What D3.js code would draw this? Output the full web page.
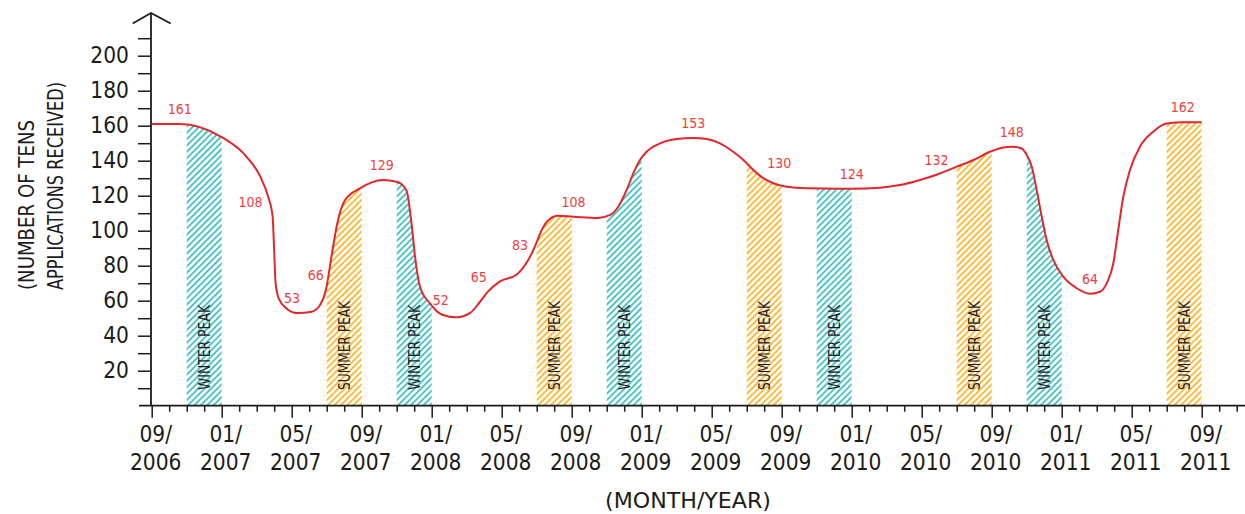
<!DOCTYPE html>
<html>
<head>
<meta charset="utf-8">
<script src="https://cdn.jsdelivr.net/npm/d3@7"></script>
<style>
  html, body { margin: 0; padding: 0; background: #ffffff; }
  svg { display: block; }
  text { font-family: "Liberation Sans Narrow", "DejaVu Sans Condensed", "Arial Narrow", sans-serif; }
</style>
</head>
<body>
<svg id="chart" width="1245" height="514"></svg>
<script>
// Months are counted from September 2006 (0 = 09/2006, 60 = 09/2011).
const xTickLabels = ["09/2006", "01/2007", "05/2007", "09/2007", "01/2008", "05/2008",
  "09/2008", "01/2009", "05/2009", "09/2009", "01/2010", "05/2010", "09/2010",
  "01/2011", "05/2011", "09/2011"];
const yTickValues = [20, 40, 60, 80, 100, 120, 140, 160, 180, 200];

// Applications received (tens).
const curveMonth = [0, 1.6, 4.0, 5.4, 6.2, 6.65, 6.91, 7.0, 7.08, 7.25, 7.7, 8.3, 9.15, 9.62, 9.95,
  10.3, 10.6, 11.05, 11.9, 13.2, 14.0, 14.55, 14.85, 15.05, 15.33, 15.9, 16.6, 17.4, 18.2, 18.76,
  19.2, 19.9, 20.86, 21.5, 21.9, 22.2, 22.57, 23.2, 24.1, 25.5, 26.2, 26.66, 27.14, 27.52, 27.9,
  28.28, 29.05, 30.0, 30.95, 31.71, 32.47, 33.23, 33.81, 34.38, 34.95, 35.52, 36.29, 37.43, 40.0,
  41.62, 42.76, 43.9, 44.85, 46.0, 46.95, 47.9, 48.66, 49.2, 49.71, 50.0, 50.29, 50.57, 50.86,
  51.14, 51.52, 52.09, 52.86, 53.62, 54.19, 54.57, 54.95, 55.23, 55.52, 55.9, 56.47, 57.23, 58.0,
  59.0, 60.0];
const curveValue = [161, 161, 153.5, 142.5, 131, 119.5, 108, 88, 70, 61.5, 55.6, 53, 53.7, 57.5, 66,
  87, 104, 117.5, 124.2, 129, 128, 123.3, 104, 85, 68, 58.5, 52, 50.5, 53, 59.4,
  65, 71, 75, 83, 91, 98.5, 105, 108.5, 108, 107.3, 109, 113.7, 123.3, 132.8, 140.4,
  145.1, 149.9, 152.4, 153, 152.4, 149.9, 145.1, 140.4, 134.7, 130, 127.1, 125.1, 124.2, 124,
  124.6, 126.1, 129, 132, 136.6, 140.4, 145.1, 147.6, 148, 147, 143.3, 136.6, 123.3, 108,
  94.7, 83.3, 73.7, 67.1, 64, 65.1, 69.9, 81.4, 100.4, 119.4, 134.7, 148, 156.6, 161.2,
  162, 162];
// Points whose value is written on the chart.
const labelledAt = [1, 6, 11, 14, 19, 26, 30, 33, 38, 48, 54, 58, 62, 67, 77, 87];
const labelShift = [0, -22, -5, -10, -1, -1.5, -9, -8, 0, 0, 16, 0, 0, -1, 0, -1.5];

// Seasonal peaks, each two months wide.
const peakStart = [2, 10, 14, 22, 26, 34, 38, 46, 50, 58];
const peakKind = ["WINTER PEAK", "SUMMER PEAK", "WINTER PEAK", "SUMMER PEAK", "WINTER PEAK",
  "SUMMER PEAK", "WINTER PEAK", "SUMMER PEAK", "WINTER PEAK", "SUMMER PEAK"];

const svg = d3.select("#chart");
const ink = "#1b1b1b";
const red = "#e3262b";
const hatchColour = { "WINTER PEAK": "#3fbfc5", "SUMMER PEAK": "#fbb52b" };

const x = d3.scaleLinear().domain([0, 60]).range([151.7, 1201.7]);
const y = d3.scaleLinear().domain([0, 200]).range([405.7, 55.7]);

const points = curveMonth.map((m, i) => ({ m, v: curveValue[i] }));

const defs = svg.append("defs");
Object.entries(hatchColour).forEach(([kind, colour]) => {
  const p = defs.append("pattern")
    .attr("id", kind === "WINTER PEAK" ? "hatch-winter" : "hatch-summer")
    .attr("patternUnits", "userSpaceOnUse")
    .attr("width", 4.5).attr("height", 10)
    .attr("patternTransform", "rotate(45)");
  p.append("line")
    .attr("x1", 1).attr("x2", 1).attr("y1", 0).attr("y2", 10)
    .attr("stroke", colour).attr("stroke-width", 1.8);
});

const area = d3.area()
  .x(d => x(d.m)).y0(y(0)).y1(d => y(d.v))
  .curve(d3.curveMonotoneX);
defs.append("clipPath").attr("id", "under-curve")
  .append("path").attr("d", area(points));

// Hatched peak bands, filled up to the line
const bands = svg.append("g").attr("clip-path", "url(#under-curve)");
peakStart.forEach((s, i) => {
  bands.append("rect")
    .attr("x", x(s)).attr("width", x(s + 2) - x(s))
    .attr("y", y(210)).attr("height", y(0) - y(210))
    .attr("fill", peakKind[i] === "WINTER PEAK" ? "url(#hatch-winter)" : "url(#hatch-summer)");
});

// Band captions
peakStart.forEach((s, i) => {
  const cx = x(s + 1) + 5.5;
  svg.append("text")
    .attr("transform", `translate(${cx},390) rotate(-90)`)
    .attr("font-size", 15).attr("fill", ink)
    .attr("text-anchor", "start")
    .attr("textLength", peakKind[i] === "WINTER PEAK" ? 85 : 89)
    .attr("lengthAdjust", "spacingAndGlyphs")
    .text(peakKind[i]);
});

// X axis
const xAxis = d3.axisBottom(x)
  .tickValues(d3.range(0, 63))
  .tickSize(6).tickFormat("");
const gx = svg.append("g").attr("transform", `translate(0,${y(0)})`).call(xAxis);
gx.select(".domain").remove();
gx.selectAll(".tick line")
  .attr("stroke", ink).attr("stroke-width", 1.5)
  .attr("y2", d => d % 4 === 0 ? 12 : 6);
svg.append("line")
  .attr("x1", 139).attr("x2", 1245).attr("y1", y(0)).attr("y2", y(0))
  .attr("stroke", ink).attr("stroke-width", 1.8);

xTickLabels.forEach((lab, i) => {
  const [mm, yy] = [lab.slice(0, 3), lab.slice(3)];
  const t = svg.append("text")
    .attr("x", x(i * 4) + 4).attr("text-anchor", "middle")
    .attr("font-size", 22.5).attr("fill", ink);
  t.append("tspan").attr("x", x(i * 4) + 4).attr("y", 442).text(mm);
  t.append("tspan").attr("x", x(i * 4) + 4).attr("y", 470).text(yy);
});

// Y axis
const yAxis = d3.axisLeft(y)
  .tickValues(d3.range(10, 211, 10))
  .tickSize(13).tickPadding(9)
  .tickFormat(d => yTickValues.includes(d) ? d : "");
const gy = svg.append("g").attr("transform", `translate(${x(0) - 0.7},0)`).call(yAxis);
gy.select(".domain").remove();
gy.selectAll(".tick line").attr("stroke", ink).attr("stroke-width", 1.5);
gy.selectAll(".tick text")
  .attr("font-size", 22.5).attr("fill", ink)
  .attr("font-family", null);
svg.append("line")
  .attr("x1", 151).attr("x2", 151).attr("y1", y(0)).attr("y2", 13)
  .attr("stroke", ink).attr("stroke-width", 1.8);
svg.append("path")
  .attr("d", "M132.7,23.5 L151,13 L170.7,23.5")
  .attr("fill", "none").attr("stroke", ink).attr("stroke-width", 1.8);

// Axis titles
const yTitle = svg.append("g").attr("fill", ink).attr("font-size", 22);
yTitle.append("text")
  .attr("transform", "translate(34,290) rotate(-90)")
  .attr("textLength", 170).attr("lengthAdjust", "spacingAndGlyphs")
  .text("(NUMBER OF TENS");
yTitle.append("text")
  .attr("transform", "translate(63,290) rotate(-90)")
  .attr("textLength", 208).attr("lengthAdjust", "spacingAndGlyphs")
  .text("APPLICATIONS RECEIVED)");
svg.append("text")
  .attr("x", 605).attr("y", 508)
  .attr("font-size", 22).attr("fill", ink)
  .attr("textLength", 166).attr("lengthAdjust", "spacingAndGlyphs")
  .text("(MONTH/YEAR)");

// Line
const line = d3.line()
  .x(d => x(d.m)).y(d => y(d.v))
  .curve(d3.curveMonotoneX);
svg.append("path")
  .attr("d", line(points))
  .attr("fill", "none").attr("stroke", red).attr("stroke-width", 2);

// Value labels
labelledAt.forEach((idx, k) => {
  const p = points[idx];
  svg.append("text")
    .attr("x", x(p.m) + labelShift[k]).attr("y", y(p.v) - 10)
    .attr("text-anchor", "middle")
    .attr("font-size", 14).attr("fill", "#ee3d41")
    .text(p.v);
});
</script>
</body>
</html>
